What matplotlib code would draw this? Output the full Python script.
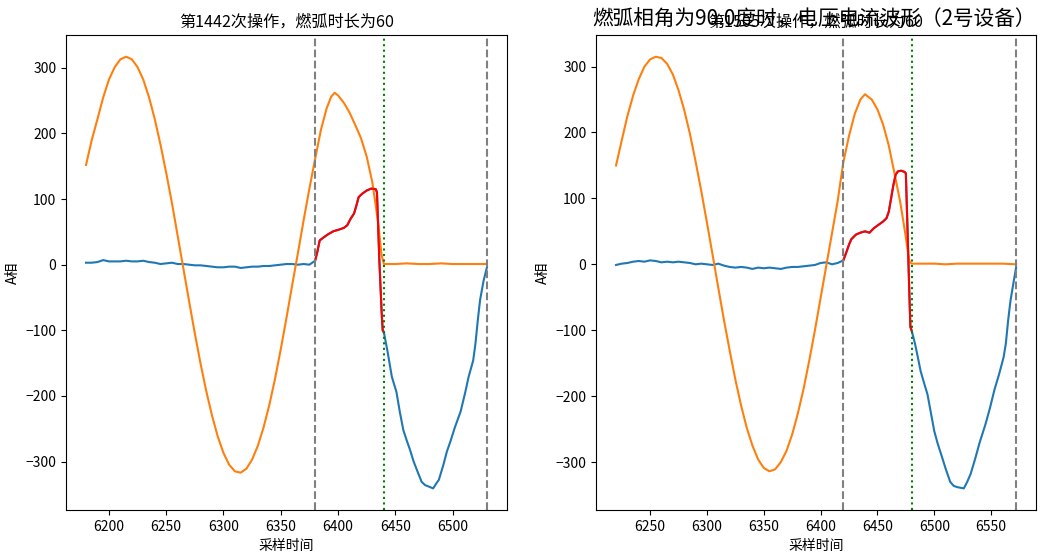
import matplotlib
matplotlib.use("Agg")
import matplotlib.pyplot as plt

plt.rcParams['font.family'] = ['Noto Sans CJK SC', 'DejaVu Sans']
plt.rcParams['axes.unicode_minus'] = True

suptitle = "燃弧相角为90.0度时，电压电流波形（2号设备）"
titles = ["第1442次操作，燃弧时长为60", "第1505次操作，燃弧时长为60"]

# ---- left: operation 1442 ----
# voltage (orange)
left_t_volt = list(range(6180, 6381, 5)) + [6385, 6390, 6394, 6397, 6400, 6405, 6410, 6415, 6420,
                                          6425, 6430, 6435, 6438, 6440, 6450, 6460, 6470, 6480,
                                          6490, 6500, 6510, 6520, 6530]
left_volt = [152, 190, 222, 255, 282, 301, 313, 317, 313, 301, 282, 255, 222, 183, 140, 94, 44, -6,
             -56, -105, -151, -193, -230, -262, -287, -305, -315, -317, -311, -297, -276, -248,
             -214, -174, -129, -81, -31, 18, 68, 116, 161,
             205, 238, 256, 262, 258, 247, 232, 213, 193, 165, 125, 65, 15, 1, 1, 2, 1, 1, 2, 1,
             1, 1, 1]

# current before the arc (blue)
left_t_base = list(range(6180, 6380, 5))
left_base = [3, 3, 4, 7, 5, 5, 5, 6, 5, 5, 6, 4, 3, 1, 2, 3, 1, 1, 0, -1, -1, -2, -3, -4, -4,
             -3, -3, -5, -4, -3, -3, -2, -2, -1, 0, 1, 1, 0, 1, 0]
# arc current (red)
left_t_arc = [6380, 6382, 6384, 6387, 6391, 6396, 6400, 6405, 6408, 6411, 6414, 6416, 6418, 6421,
              6425, 6429, 6433, 6434, 6435, 6436, 6437, 6438, 6439, 6440]
left_arc = [6, 20, 37, 41, 46, 51, 53, 56, 60, 70, 78, 90, 103, 108, 113, 116, 115, 110, 60, 10,
            -30, -70, -100, -103]
# current after the arc (blue)
left_t_after = [6443, 6447, 6451, 6454, 6457, 6460, 6463, 6466, 6470, 6473, 6476, 6479, 6483,
                6486, 6488, 6492, 6495, 6498, 6502, 6507, 6511, 6514, 6518, 6520, 6522, 6524,
                6527, 6530]
left_after = [-130, -171, -194, -225, -252, -268, -283, -300, -318, -331, -336, -338, -341, -333,
              -328, -305, -285, -270, -248, -224, -195, -171, -146, -120, -85, -54, -25, -4]
left_lines = [6380, 6440, 6530]

# ---- right: operation 1505 ----
right_t_volt = list(range(6220, 6421, 5)) + [6425, 6430, 6435, 6439, 6445, 6450, 6455, 6460, 6465,
                                           6470, 6474, 6478, 6480, 6490, 6500, 6510, 6520, 6530,
                                           6540, 6550, 6560, 6572]
right_volt = [150, 188, 225, 256, 281, 300, 311, 315, 313, 304, 288, 264, 234, 198, 156, 111, 63,
              14, -36, -85, -131, -175, -214, -248, -275, -296, -309, -314, -311, -300, -283, -258,
              -226, -189, -146, -100, -51, -2, 47, 96, 155,
              195, 228, 250, 258, 250, 235, 212, 180, 138, 95, 52, 5, 1, 1, 1, 0, 1, 1, 1, 1, 1,
              0]

right_t_base = list(range(6220, 6420, 5))
right_base = [-1, 1, 2, 4, 5, 4, 6, 5, 3, 4, 3, 4, 3, 2, 0, 1, 0, -1, 1, -2, -4, -5, -4, -5, -7,
              -5, -6, -5, -6, -7, -5, -4, -4, -3, -2, -1, 2, 3, 0, 2]
right_t_arc = [6420, 6423, 6425, 6427, 6431, 6435, 6439, 6443, 6447, 6451, 6455, 6458, 6460,
               6462, 6464, 6466, 6468, 6471, 6474, 6475, 6476, 6477, 6478, 6479, 6480]
right_arc = [6, 20, 30, 38, 45, 48, 50, 48, 55, 60, 65, 70, 80, 100, 120, 136, 141, 142, 140,
             138, 80, 20, -40, -95, -100]
right_t_after = [6483, 6486, 6488, 6491, 6494, 6497, 6500, 6503, 6506, 6510, 6514, 6517, 6520,
                 6523, 6526, 6529, 6532, 6536, 6540, 6545, 6549, 6553, 6557, 6561, 6563, 6565,
                 6567, 6569, 6572]
right_after = [-120, -145, -162, -180, -197, -225, -253, -272, -288, -310, -330, -336, -338, -339,
               -340, -330, -318, -295, -270, -243, -218, -190, -167, -141, -120, -85, -56, -35, -5]
right_lines = [6420, 6480, 6572]

fig = plt.figure(figsize=(10.49, 5.6), dpi=100)
ax1 = fig.add_axes([0.0629, 0.0893, 0.4204, 0.848])
ax2 = fig.add_axes([0.5682, 0.0893, 0.4195, 0.848])

panels = [
    (ax1, titles[0], left_t_volt, left_volt, left_t_base, left_base, left_t_arc, left_arc,
     left_t_after, left_after, left_lines),
    (ax2, titles[1], right_t_volt, right_volt, right_t_base, right_base, right_t_arc, right_arc,
     right_t_after, right_after, right_lines),
]

for ax, title, tv, v, tb, b, ta, a, tf, f, lines in panels:
    ax.plot(tb + ta + tf, b + a + f, color='C0', lw=1.5)
    ax.plot(tv, v, color='C1', lw=1.5)
    ax.plot(ta, a, color='red', lw=1.5)
    ax.axvline(lines[0], color='gray', ls='--', lw=1.5)
    ax.axvline(lines[1], color='green', ls=':', lw=1.5)
    ax.axvline(lines[2], color='gray', ls='--', lw=1.5)
    ax.set_title(title, fontsize=11.6)
    ax.set_xlabel("采样时间")
    ax.set_ylabel("A相")

# suptitle sits over the right panel, as in the original figure
fig.suptitle(suptitle, x=0.776, y=0.964, va='center', fontsize=14.9)

fig.savefig("out.png", dpi=100)
